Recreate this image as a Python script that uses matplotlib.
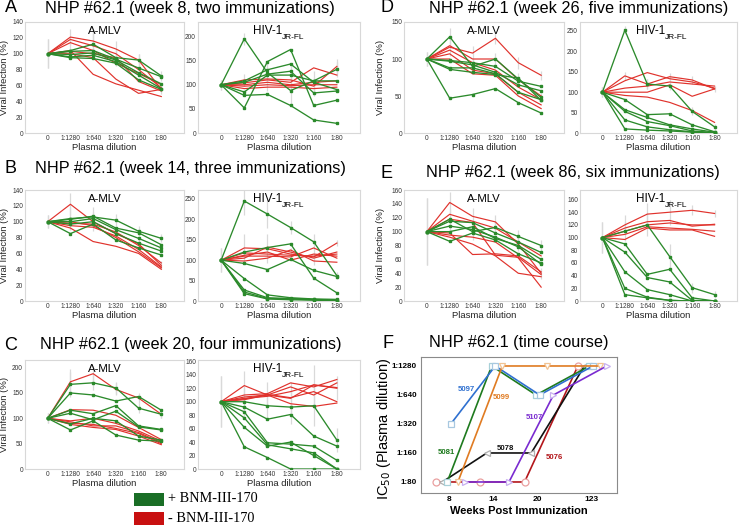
import matplotlib
matplotlib.use("Agg")
import matplotlib.pyplot as plt
from matplotlib.patches import Rectangle

plt.rcParams["font.family"] = ["Liberation Sans", "DejaVu Sans"]

W, H = 740, 527
RED = "#e0322c"
GREEN = "#2b8a2b"
ERRC = "#d9d9d9"

dilutions = ["0", "1:1280", "1:640", "1:320", "1:160", "1:80"]
xs = [0, 1, 2, 3, 4, 5]

# ---------------- data ----------------
# A : week 8
a_mlv_green = [[100, 104, 112, 95, 92, 72], [100, 103, 104, 93, 82, 71], [100, 99, 101, 92, 76, 62],
               [100, 96, 98, 90, 73, 56], [100, 95, 94, 88, 67, 55]]
a_mlv_red = [[100, 121, 116, 106, 92, 55], [100, 118, 110, 100, 80, 57], [100, 114, 104, 88, 75, 61],
             [100, 103, 100, 95, 65, 53], [100, 104, 74, 62, 54, 46], [100, 100, 95, 68, 50, 55]]
a_mlv_err = [18, 10, 14, 10, 8, 6]
a_hiv_green = [[100, 195, 125, 88, 108, 132], [100, 52, 148, 173, 57, 68], [100, 108, 131, 143, 105, 90],
               [100, 105, 122, 128, 83, 87], [100, 85, 120, 120, 108, 108], [100, 78, 80, 57, 27, 20]]
a_hiv_red = [[100, 110, 112, 110, 97, 138], [100, 104, 110, 105, 135, 120], [100, 100, 105, 100, 105, 108],
             [100, 97, 100, 98, 100, 100], [100, 92, 95, 95, 92, 95]]
a_hiv_err = [10, 12, 25, 28, 20, 15]

# B : week 14
b_mlv_green = [[100, 104, 106, 102, 88, 79], [100, 103, 107, 92, 86, 71], [100, 100, 104, 90, 79, 67],
               [100, 97, 100, 85, 73, 63], [100, 85, 97, 77, 67, 58]]
b_mlv_red = [[100, 122, 100, 85, 72, 45], [100, 98, 97, 87, 70, 48], [100, 95, 93, 82, 65, 43],
             [100, 92, 75, 69, 60, 40], [100, 100, 95, 80, 62, 42]]
b_mlv_err = [8, 14, 12, 8, 6, 5]
b_hiv_green = [[100, 245, 213, 180, 145, 62], [100, 120, 131, 140, 56, 20], [100, 92, 77, 102, 75, 60],
               [100, 55, 15, 8, 5, 4], [100, 27, 8, 6, 4, 2], [100, 22, 6, 5, 3, 1], [100, 18, 5, 3, 2, 0]]
b_hiv_red = [[100, 130, 128, 115, 108, 142], [100, 105, 132, 120, 105, 120], [100, 118, 115, 112, 110, 115],
             [100, 110, 110, 108, 130, 105], [100, 98, 105, 125, 98, 95], [100, 112, 120, 100, 115, 110]]
b_hiv_err = [30, 35, 35, 15, 20, 8]

# C : week 20
c_mlv_green = [[100, 167, 170, 160, 120, 108], [100, 150, 146, 134, 143, 116], [100, 116, 109, 125, 85, 78],
               [100, 110, 97, 114, 83, 77], [100, 89, 100, 95, 65, 57], [100, 77, 95, 67, 57, 55]]
c_mlv_red = [[100, 172, 188, 157, 140, 108], [100, 117, 116, 106, 82, 58], [100, 95, 100, 90, 75, 55],
             [100, 93, 85, 85, 72, 52], [100, 90, 88, 80, 70, 50], [100, 88, 82, 78, 65, 48]]
c_mlv_err = [10, 25, 15, 12, 10, 8]
c_hiv_green = [[100, 100, 94, 92, 94, 43], [100, 92, 74, 81, 49, 34], [100, 85, 39, 37, 34, 13],
               [100, 76, 36, 30, 24, 0], [100, 62, 34, 40, 20, 0], [100, 33, 17, 0, 0, 0]]
c_hiv_red = [[100, 124, 110, 105, 125, 120], [100, 110, 112, 128, 122, 133], [100, 107, 110, 122, 110, 128],
             [100, 105, 108, 115, 125, 121], [100, 103, 110, 97, 93, 98], [100, 104, 111, 106, 115, 100]]
c_hiv_err = [38, 22, 20, 25, 30, 18]

# D : week 26
d_mlv_green = [[100, 130, 90, 100, 73, 48], [100, 98, 95, 90, 70, 63], [100, 97, 92, 82, 65, 57],
               [100, 88, 88, 80, 55, 45], [100, 86, 82, 79, 74, 44], [100, 47, 52, 60, 41, 27]]
d_mlv_red = [[100, 116, 108, 128, 95, 78], [100, 118, 100, 100, 72, 50], [100, 112, 95, 85, 62, 45],
             [100, 107, 85, 80, 55, 38], [100, 100, 80, 78, 50, 33]]
d_mlv_err = [10, 12, 10, 8, 8, 6]
d_hiv_green = [[100, 252, 120, 115, 53, 15], [100, 82, 45, 47, 20, 3], [100, 57, 38, 20, 10, 2],
               [100, 53, 28, 18, 5, 1], [100, 32, 15, 8, 3, 0], [100, 10, 7, 5, 2, 0]]
d_hiv_red = [[100, 140, 120, 138, 130, 108], [100, 128, 148, 133, 125, 110], [100, 110, 115, 125, 120, 115],
             [100, 100, 100, 118, 90, 108], [100, 92, 88, 75, 55, 26]]
d_hiv_err = [12, 10, 12, 10, 10, 8]

# E : week 86
e_mlv_green = [[100, 118, 100, 106, 93, 80], [100, 115, 113, 98, 85, 70], [100, 100, 107, 90, 80, 60],
               [100, 86, 98, 88, 68, 55], [100, 108, 103, 92, 78, 53]]
e_mlv_red = [[100, 142, 122, 114, 82, 40], [100, 125, 115, 105, 85, 65], [100, 118, 113, 66, 63, 38],
             [100, 95, 92, 85, 62, 20], [100, 92, 82, 65, 40, 35], [100, 98, 67, 68, 65, 42]]
e_mlv_err = [48, 15, 12, 10, 10, 8]
e_hiv_green = [[100, 110, 120, 70, 21, 10], [100, 90, 42, 50, 5, 0], [100, 77, 37, 30, 1, 0],
               [100, 46, 18, 10, 0, 0], [100, 20, 6, 1, 0, 0], [100, 10, 5, 1, 0, 0]]
e_hiv_red = [[100, 120, 137, 140, 143, 138], [100, 115, 125, 127, 118, 121], [100, 110, 120, 123, 120, 120],
             [100, 105, 117, 115, 113, 110], [100, 97, 115, 112, 112, 102]]
e_hiv_err = [25, 15, 18, 20, 8, 6]

# F : time course (IC50 level index: 0=1:80 ... 4=1:1280)
weeks = ["8", "14", "20", "123"]
week_pos = [0, 1, 2, 3.2]
ic50_levels = ["1:80", "1:160", "1:320", "1:640", "1:1280"]
f_5076 = [0, 0, 0, 4]
f_5078 = [0, 1, 1, 4]
f_5081 = [0, 4, 3, 4]
f_5097 = [2, 4, 3, 4]
f_5099 = [0, 4, 4, 4]
f_5107 = [0, 0, 3, 4]

fig = plt.figure(figsize=(W / 100, H / 100), dpi=100)


def box(x0, y0, x1, y1):
    return fig.add_axes([x0 / W, 1 - y1 / H, (x1 - x0) / W, (y1 - y0) / H])


def panel(ax, green, red, err, ymax, yticks, ylab_x=None):
    # faint error bars behind the curves
    ax.errorbar(xs, red[0], yerr=err, fmt="none", ecolor=ERRC, elinewidth=0.9, zorder=1)
    ax.errorbar(xs, green[0], yerr=err, fmt="none", ecolor=ERRC, elinewidth=0.9, zorder=1)
    for row in red:
        ax.plot(xs, row, color=RED, lw=0.85, zorder=2)
    for row in green:
        ax.plot(xs, row, color=GREEN, lw=0.95, marker="s", ms=2, zorder=3)
    ax.set_xlim(-1, 6)
    ax.set_ylim(0, ymax)
    ax.set_xticks(xs, dilutions)
    ax.set_yticks(yticks)
    ax.tick_params(length=0, labelsize=4.7, pad=1.5, colors="#333333")
    for s in ax.spines.values():
        s.set_color("#d8d8d8")
        s.set_linewidth(0.8)
    ax.set_xlabel("Plasma dilution", fontsize=6.8, labelpad=0.5, color="#222222")
    if ylab_x is not None:
        ax.set_ylabel("Viral Infection (%)", fontsize=6.8, color="#222222")
        ax.yaxis.set_label_coords(ylab_x, 0.5)


def mlv_title(ax):
    ax.text(0.5, 0.92, "A-MLV", transform=ax.transAxes, ha="center", va="center", fontsize=8.2)


def hiv_title(ax, xf):
    ax.text(xf, 0.92, "HIV-1", transform=ax.transAxes, ha="right", va="center", fontsize=8.4)
    ax.text(xf, 0.86, "JR-FL", transform=ax.transAxes, ha="left", va="center", fontsize=6)


rows = [
    ("A", "NHP #62.1 (week 8, two immunizations)", 8, 22, 133, 190,
     a_mlv_green, a_mlv_red, a_mlv_err, 140, range(0, 141, 20),
     a_hiv_green, a_hiv_red, a_hiv_err, 230, range(0, 201, 50)),
    ("B", "NHP #62.1 (week 14, three immunizations)", 168, 190, 301, 190,
     b_mlv_green, b_mlv_red, b_mlv_err, 140, range(0, 141, 20),
     b_hiv_green, b_hiv_red, b_hiv_err, 272, range(0, 251, 50)),
    ("C", "NHP #62.1 (week 20, four immunizations)", 345, 360, 469, 191,
     c_mlv_green, c_mlv_red, c_mlv_err, 215, range(0, 201, 50),
     c_hiv_green, c_hiv_red, c_hiv_err, 162, range(0, 161, 20)),
]
for letter, title, ty, y0, y1, tx, mg, mr, me, mmax, mt, hg, hr, he, hmax, ht in rows:
    ax1 = box(25, y0, 184, y1)
    panel(ax1, mg, mr, me, mmax, mt, ylab_x=-0.10)
    mlv_title(ax1)
    ax2 = box(198, y0, 360, y1)
    panel(ax2, hg, hr, he, hmax, ht)
    hiv_title(ax2, 0.52)
    fig.text(11 / W, 1 - ty / H, letter, fontsize=13, ha="center", va="center")
    fig.text(tx / W, 1 - ty / H, title, fontsize=11.7, ha="center", va="center")

rows = [
    ("D", "NHP #62.1 (week 26, five immunizations)", 8, 22, 133, 579,
     d_mlv_green, d_mlv_red, d_mlv_err, 150, range(0, 151, 50),
     d_hiv_green, d_hiv_red, d_hiv_err, 272, range(0, 251, 50)),
    ("E", "NHP #62.1 (week 86, six immunizations)", 173, 190, 301, 573,
     e_mlv_green, e_mlv_red, e_mlv_err, 160, range(0, 161, 20),
     e_hiv_green, e_hiv_red, e_hiv_err, 175, range(0, 161, 20)),
]
for letter, title, ty, y0, y1, tx, mg, mr, me, mmax, mt, hg, hr, he, hmax, ht in rows:
    ax1 = box(404, y0, 564, y1)
    panel(ax1, mg, mr, me, mmax, mt, ylab_x=-0.12)
    mlv_title(ax1)
    ax2 = box(580, y0, 737, y1)
    panel(ax2, hg, hr, he, hmax, ht)
    hiv_title(ax2, 0.54)
    fig.text(387 / W, 1 - ty / H, letter, fontsize=13, ha="center", va="center")
    fig.text(tx / W, 1 - ty / H, title, fontsize=11.7, ha="center", va="center")

# ---------------- F: time course ----------------
axf = box(421, 357, 617, 493)
series = [
    (f_5076, "5076", "#b3161b", "o", "#eaa0a0", -0.3, (2.36, 0.86)),
    (f_5078, "5078", "#111111", "<", "#b0b0b0", -0.15, (1.26, 1.17)),
    (f_5081, "5081", "#1e7a1e", "s", "#a8d0d8", -0.04, (-0.05, 1.03)),
    (f_5097, "5097", "#2f70d0", "s", "#a8c8e0", 0.04, (0.40, 3.2)),
    (f_5099, "5099", "#e07b22", "v", "#f2c493", 0.2, (1.17, 2.93)),
    (f_5107, "5107", "#7a2bd0", ">", "#c8b0f0", 0.35, (1.91, 2.24)),
]
for vals, name, col, mk, mcol, off, lab in series:
    axf.plot([p + off for p in week_pos], vals, color=col, lw=1.2, marker=mk, ms=5,
             mfc="white", mec=mcol, mew=0.9)
    axf.text(lab[0], lab[1], name, color=col, fontsize=5.6, fontweight="bold", ha="center", va="center")
axf.set_xlim(-0.63, 3.78)
axf.set_ylim(-0.38, 4.31)
axf.set_xticks(week_pos, weeks)
axf.set_yticks(range(5), ic50_levels)
axf.tick_params(axis="x", length=0, labelsize=6, pad=2)
axf.tick_params(axis="y", length=0, labelsize=5.8, pad=3)
for lbl in axf.get_xticklabels() + axf.get_yticklabels():
    lbl.set_fontweight("bold")
for s in axf.spines.values():
    s.set_color("#8a8a8a")
    s.set_linewidth(0.8)
axf.set_xlabel("Weeks Post Immunization", fontsize=8, fontweight="bold", labelpad=2)
axf.set_ylabel("IC$_{50}$ (Plasma dilution)", fontsize=10.5)
axf.yaxis.set_label_coords(-0.145, 0.47)
fig.text(388 / W, 1 - 343 / H, "F", fontsize=13, ha="center", va="center")
fig.text(519 / W, 1 - 343 / H, "NHP #62.1 (time course)", fontsize=11.7, ha="center", va="center")

# ---------------- legend ----------------
fig.add_artist(Rectangle((134 / W, 1 - 506 / H), 30 / W, 13 / H, transform=fig.transFigure,
                         facecolor="#1a6e26", edgecolor="none"))
fig.add_artist(Rectangle((134 / W, 1 - 525 / H), 30 / W, 13 / H, transform=fig.transFigure,
                         facecolor="#c81010", edgecolor="none"))
fig.text(168 / W, 1 - 499 / H, "+ BNM-III-170", fontsize=10.3, family="Liberation Serif", va="center")
fig.text(168 / W, 1 - 518 / H, "- BNM-III-170", fontsize=10.3, family="Liberation Serif", va="center")

fig.savefig("out.png", dpi=100)
